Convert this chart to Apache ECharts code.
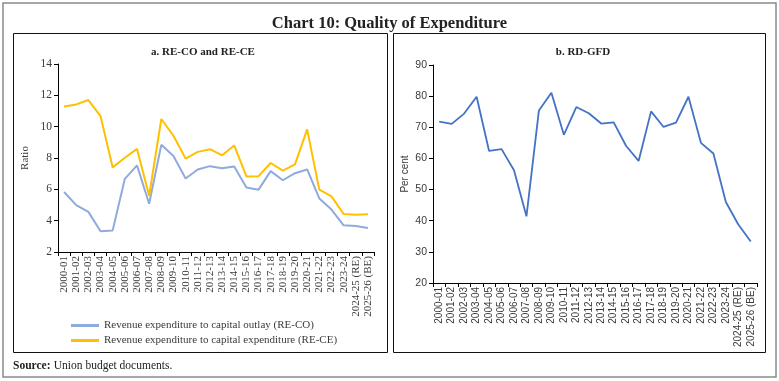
<!DOCTYPE html>
<html><head><meta charset="utf-8">
<script src="https://cdn.jsdelivr.net/npm/echarts@6/dist/echarts.min.js"></script>
<style>html,body{margin:0;padding:0;background:#fff}#c{width:779px;height:381px}</style>
</head><body><div id="c"></div>
<script>
const categories = ['2000-01','2001-02','2002-03','2003-04','2004-05','2005-06','2006-07','2007-08','2008-09','2009-10','2010-11','2011-12','2012-13','2013-14','2014-15','2015-16','2016-17','2017-18','2018-19','2019-20','2020-21','2021-22','2022-23','2023-24','2024-25 (RE)','2025-26 (BE)'];
const reCO = [5.83,4.99,4.56,3.33,3.38,6.67,7.53,5.08,8.84,8.13,6.69,7.27,7.48,7.35,7.46,6.11,5.98,7.16,6.58,7.03,7.27,5.42,4.71,3.70,3.66,3.53];
const reCE = [11.29,11.42,11.70,10.67,7.40,8.02,8.58,5.59,10.49,9.42,7.96,8.39,8.56,8.17,8.80,6.82,6.84,7.68,7.20,7.59,9.83,5.98,5.55,4.43,4.37,4.41];
const rdGFD = [71.8,71.1,74.4,79.8,62.4,63.0,56.2,41.4,75.4,81.1,67.6,76.5,74.5,71.2,71.6,64.0,59.2,75.1,70.1,71.5,79.8,65.0,61.6,46.0,38.8,33.3];
const leftTicks = {min:2,max:14,interval:2};
const rightTicks = {min:20,max:90,interval:10};

const serif = '"Liberation Serif", "DejaVu Serif", serif';
const sans = '"Liberation Sans", "Noto Sans", sans-serif';
const txt = '#3a3a3a';
const chart = echarts.init(document.getElementById('c'));
function xAxis(gi, font, size){
  return {type:'category', gridIndex:gi, data:categories, boundaryGap:true,
    axisLine:{lineStyle:{color:'#000',width:1}},
    axisTick:{show:true,length:4,lineStyle:{color:'#000'}},
    axisLabel:{rotate:90,interval:0,fontFamily:font,fontSize:size,color:txt,margin:4}};
}
function yAxis(gi, t, name, font, size, gap){
  return {type:'value', gridIndex:gi, min:t.min, max:t.max, interval:t.interval,
    name:name, nameLocation:'middle', nameGap:gap, nameRotate:90,
    nameTextStyle:{fontFamily:font,fontSize:size,color:txt},
    splitLine:{show:false},
    axisLine:{show:true,lineStyle:{color:'#000',width:1}},
    axisTick:{show:true,length:4,lineStyle:{color:'#000'}},
    axisLabel:{fontFamily:font,fontSize:size+0.5,color:txt,margin:6}};
}
chart.setOption({
  animation:false,
  title:[
    {text:'Chart 10: Quality of Expenditure',left:'center',top:10,textStyle:{fontFamily:serif,fontWeight:'bold',fontSize:16.5,color:'#222'}},
    {text:'a. RE-CO and RE-CE',left:198,textAlign:'center',top:42,textStyle:{fontFamily:serif,fontWeight:'bold',fontSize:11,color:'#222'}},
    {text:'b. RD-GFD',left:578,textAlign:'center',top:42,textStyle:{fontFamily:serif,fontWeight:'bold',fontSize:11,color:'#222'}}
  ],
  graphic:[
    {type:'rect',shape:{x:3,y:3,width:773,height:374},style:{fill:'none',stroke:'#8a8a8a',lineWidth:1.5},silent:true},
    {type:'rect',shape:{x:13.5,y:33.5,width:374,height:319},style:{fill:'none',stroke:'#111',lineWidth:1},silent:true},
    {type:'rect',shape:{x:393.5,y:33.5,width:372,height:319},style:{fill:'none',stroke:'#111',lineWidth:1},silent:true},
    {type:'text',left:13,top:360,style:{rich:{b:{fontWeight:'bold',fontFamily:serif,fontSize:11.5,fill:'#222'},n:{fontFamily:serif,fontSize:11.5,fill:'#222'}},text:'{b|Source:} {n|Union budget documents.}'}}
  ],
  grid:[
    {left:58,top:64,width:316,height:188},
    {left:433,top:65,width:324,height:218}
  ],
  xAxis:[xAxis(0,serif,11), xAxis(1,sans,10)],
  yAxis:[yAxis(0,leftTicks,'Ratio',serif,11,27), yAxis(1,rightTicks,'Per cent',sans,10,23)],
  legend:{orient:'vertical',left:66,top:315,itemWidth:28,itemHeight:3,itemGap:4,icon:'rect',
    textStyle:{fontFamily:serif,fontSize:11,color:txt},
    data:['Revenue expenditure to capital outlay (RE-CO)','Revenue expenditure to capital expenditure (RE-CE)']},
  series:[
    {name:'Revenue expenditure to capital outlay (RE-CO)',type:'line',xAxisIndex:0,yAxisIndex:0,data:reCO,symbol:'none',lineStyle:{color:'#8FAADC',width:2},itemStyle:{color:'#8FAADC'}},
    {name:'Revenue expenditure to capital expenditure (RE-CE)',type:'line',xAxisIndex:0,yAxisIndex:0,data:reCE,symbol:'none',lineStyle:{color:'#FFC000',width:2},itemStyle:{color:'#FFC000'}},
    {name:'RD-GFD',type:'line',xAxisIndex:1,yAxisIndex:1,data:rdGFD,symbol:'none',lineStyle:{color:'#4472C4',width:1.8},itemStyle:{color:'#4472C4'}}
  ]
});
</script></body></html>
